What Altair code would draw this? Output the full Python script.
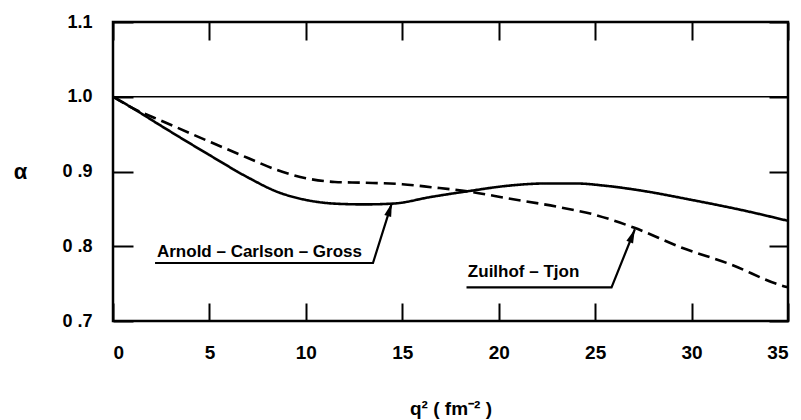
import math
import altair as alt
import pandas as pd

# ---- data ----
acg_q2 = [0, 1, 2.5, 5, 7, 8.5, 10, 11.5, 13, 14.5, 16.5, 18.5, 20.5, 22.5, 24, 25.5, 27.5, 30, 32.5, 35]
acg_alpha = [1.0, 0.985, 0.961, 0.922, 0.892, 0.873, 0.862, 0.857, 0.856, 0.857, 0.866, 0.874, 0.881, 0.884, 0.884, 0.881, 0.874, 0.862, 0.849, 0.834]

zt_q2 = [0, 1, 2.5, 5, 7, 8.5, 10, 11.5, 13, 15, 16.5, 18.5, 20.5, 23, 25, 27, 29.5, 32, 34.6, 35]
zt_alpha = [1.0, 0.985, 0.968, 0.940, 0.918, 0.902, 0.891, 0.886, 0.885, 0.883, 0.879, 0.873, 0.864, 0.853, 0.842, 0.825, 0.798, 0.776, 0.748, 0.745]

x_ticks = [0, 5, 10, 15, 20, 25, 30, 35]
y_ticks = [0.7, 0.8, 0.9, 1.0, 1.1]

labels = ["Arnold \u2013 Carlson  \u2013 Gross", "Zuilhof  \u2013 Tjon"]
label_q2 = [2.28, 18.40]
label_alpha = [0.7856, 0.7585]

# leader lines: underline start, underline end, arrow tip
leader_q2 = [[2.18, 13.48, 14.46], [18.33, 25.85, 27.06]]
leader_alpha = [[0.7776, 0.7776, 0.858], [0.745, 0.745, 0.8227]]

W, H = 675, 299
FONT = "Liberation Sans, Arial, Helvetica, sans-serif"
XMIN, XMAX, YMIN, YMAX = 0, 35, 0.7, 1.1

xs = alt.Scale(domain=[XMIN, XMAX], nice=False, zero=False)
ys = alt.Scale(domain=[YMIN, YMAX], nice=False, zero=False)

curves = pd.DataFrame(
    {"q2": acg_q2 + zt_q2,
     "alpha": acg_alpha + zt_alpha,
     "series": ["ACG"] * len(acg_q2) + ["ZT"] * len(zt_q2),
     "order": list(range(len(acg_q2))) + list(range(len(zt_q2)))}
)

lead_rows = []
for g, (qs, als) in enumerate(zip(leader_q2, leader_alpha)):
    for i, (q, a) in enumerate(zip(qs, als)):
        lead_rows.append({"q2": q, "alpha": a, "grp": g, "order": i})
leaders = pd.DataFrame(lead_rows)

px_x = W / (XMAX - XMIN)
px_y = H / (YMAX - YMIN)
heads = []
for qs, als in zip(leader_q2, leader_alpha):
    dx = (qs[2] - qs[1]) * px_x
    dy = (als[2] - als[1]) * px_y
    ang = math.degrees(math.atan2(dx, dy))
    heads.append({"q2": qs[2], "alpha": als[2], "ang": ang})
heads = pd.DataFrame(heads)

texts = pd.DataFrame({"q2": label_q2, "alpha": label_alpha, "label": labels})

bottom_axis = alt.Axis(
    orient="bottom", values=x_ticks, offset=-18, tickSize=18, tickWidth=2,
    tickColor="black", domain=False, grid=False, labelPadding=22,
    labelFont=FONT, labelFontSize=19, labelFontWeight="bold", labelColor="black",
    title="q\u00b2  ( fm\u207b\u00b2 )", titleFont=FONT, titleFontSize=19,
    titleFontWeight="bold", titleColor="black", titlePadding=37,
)
left_axis = alt.Axis(
    orient="left", values=y_ticks, offset=-20, tickSize=20, tickWidth=2,
    tickColor="black", domain=False, grid=False, labelPadding=21,
    labelExpr="datum.value >= 1 ? format(datum.value, '.1f') : '0 .' + format(datum.value * 10, '.0f')",
    labelFont=FONT, labelFontSize=18, labelFontWeight="bold", labelColor="black",
    title="\u03b1", titleFont=FONT, titleFontSize=22, titleFontWeight="bold",
    titleColor="black", titleAngle=0, titleAlign="center", titleBaseline="middle",
    titleX=-113, titleY=149,
)
top_axis = alt.Axis(
    orient="top", values=x_ticks, offset=-18, tickSize=18, tickWidth=2,
    tickColor="black", domain=False, grid=False, labels=False, title=None,
)
right_axis = alt.Axis(
    orient="right", values=y_ticks, offset=-19, tickSize=19, tickWidth=2,
    tickColor="black", domain=False, grid=False, labels=False, title=None,
)

curve_layer = alt.Chart(curves).mark_line(
    color="black", strokeWidth=2.6, interpolate="monotone"
).encode(
    x=alt.X("q2:Q", scale=xs, axis=bottom_axis),
    y=alt.Y("alpha:Q", scale=ys, axis=left_axis),
    strokeDash=alt.StrokeDash(
        "series:N",
        scale=alt.Scale(domain=["ACG", "ZT"], range=[[1, 0], [12, 6]]),
        legend=None,
    ),
    order="order:Q",
)

leader_layer = alt.Chart(leaders).mark_line(color="black", strokeWidth=2.2).encode(
    x=alt.X("q2:Q", scale=xs, axis=top_axis),
    y=alt.Y("alpha:Q", scale=ys, axis=right_axis),
    detail="grp:N",
    order="order:Q",
)

one_line = alt.Chart(pd.DataFrame({"v": [1.0]})).mark_rule(
    color="black", strokeWidth=1.6
).encode(y=alt.Y("v:Q", scale=ys, axis=None))

head_layer = alt.Chart(heads).mark_point(
    shape="M0,0 L-0.26,1 L0.26,1 Z", filled=True, color="black", opacity=1,
    size=760, strokeWidth=0,
).encode(
    x=alt.X("q2:Q", scale=xs, axis=None),
    y=alt.Y("alpha:Q", scale=ys, axis=None),
    angle=alt.Angle("ang:Q", scale=None),
)

text_layer = alt.Chart(texts).mark_text(
    font=FONT, fontSize=17, fontWeight="bold", color="black",
    align="left", baseline="alphabetic",
).encode(
    x=alt.X("q2:Q", scale=xs, axis=None),
    y=alt.Y("alpha:Q", scale=ys, axis=None),
    text="label:N",
)

chart = alt.layer(
    curve_layer, leader_layer, one_line, head_layer, text_layer
).resolve_axis(x="independent", y="independent").properties(
    width=W, height=H,
    autosize=alt.AutoSizeParams(type="none"),
    padding={"left": 105, "top": 14, "right": 5, "bottom": 98},
    background="white",
).configure_view(
    stroke="black", strokeWidth=2.5
)

chart.save("out.html", embed_options={"renderer": "svg", "actions": False})
